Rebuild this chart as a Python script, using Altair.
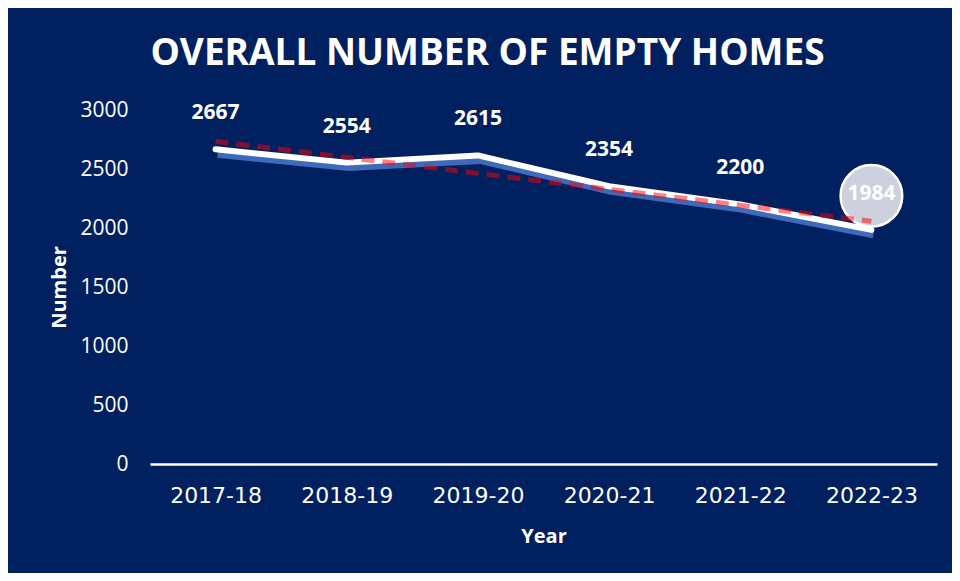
import json
import altair as alt
import pandas as pd

years = ["2017-18", "2018-19", "2019-20", "2020-21", "2021-22", "2022-23"]
values = [2667, 2554, 2615, 2354, 2200, 1984]
idx = list(range(len(years)))

df = pd.DataFrame({"idx": idx, "year": years, "value": values})

NAVY = "#002060"
label_expr = json.dumps(years) + "[datum.value]"

x = alt.X(
    "idx:Q",
    scale=alt.Scale(domain=[-0.5, len(years) - 0.5], nice=False, zero=False),
    axis=alt.Axis(
        title="Year",
        values=idx,
        labelExpr=label_expr,
        labelFont="DejaVu Sans",
        labelFontSize=22,
        labelColor="white",
        labelPadding=21,
        ticks=False,
        grid=False,
        domain=True,
        domainColor="white",
        domainWidth=2.5,
        titleFont="Open Sans",
        titleFontWeight="bold",
        titleFontSize=20,
        titleColor="white",
        titlePadding=20,
    ),
)
y = alt.Y(
    "value:Q",
    scale=alt.Scale(domain=[0, 3000], nice=False),
    axis=alt.Axis(
        title="Number",
        values=[0, 500, 1000, 1500, 2000, 2500, 3000],
        format="d",
        labelFont="Open Sans",
        labelFontSize=21,
        labelColor="white",
        labelPadding=22,
        ticks=False,
        grid=False,
        domain=False,
        titleFont="Open Sans",
        titleFontWeight="bold",
        titleFontSize=20,
        titleColor="white",
        titlePadding=10,
    ),
)

base = alt.Chart(df)

shadow = base.mark_line(
    color="#4472C4", strokeWidth=7, yOffset=5, xOffset=2, opacity=0.9, strokeJoin="round"
).encode(x=x, y=y)

line = base.mark_line(
    color="white", strokeWidth=6, strokeJoin="round", strokeCap="round"
).encode(x=x, y=y)

last = base.transform_filter(alt.datum.year == years[-1])

bubble = last.mark_point(
    shape="circle", size=3800, filled=True, fill="#CDD1DE", stroke="white",
    strokeWidth=2.5, opacity=1, yOffset=-34
).encode(x=x, y=y)

labels = base.mark_text(
    font="Open Sans", fontWeight="bold", fontSize=21, color="white",
    dy=-36, baseline="middle", align="center"
).encode(x=x, y=y, text=alt.Text("value:Q", format="d"))

trend = base.transform_regression("idx", "value").mark_line(
    color="#FF0000", opacity=0.5, strokeWidth=5, strokeDash=[13, 8]
).encode(x=x, y=y)

chart = alt.layer(bubble, shadow, line, labels, trend).properties(
    width=787,
    height=354,
    background=NAVY,
    autosize=alt.AutoSizeParams(type="none"),
    padding={"left": 142, "top": 102, "right": 15, "bottom": 109},
    title=alt.TitleParams(
        "OVERALL NUMBER OF EMPTY HOMES",
        font="Open Sans",
        fontWeight="bold",
        fontSize=37,
        color="white",
        anchor="middle",
        frame="group",
        offset=26,
        dx=-56,
    ),
).configure_view(stroke=None)

chart.save("out.html", embed_options={"renderer": "svg", "actions": False})
